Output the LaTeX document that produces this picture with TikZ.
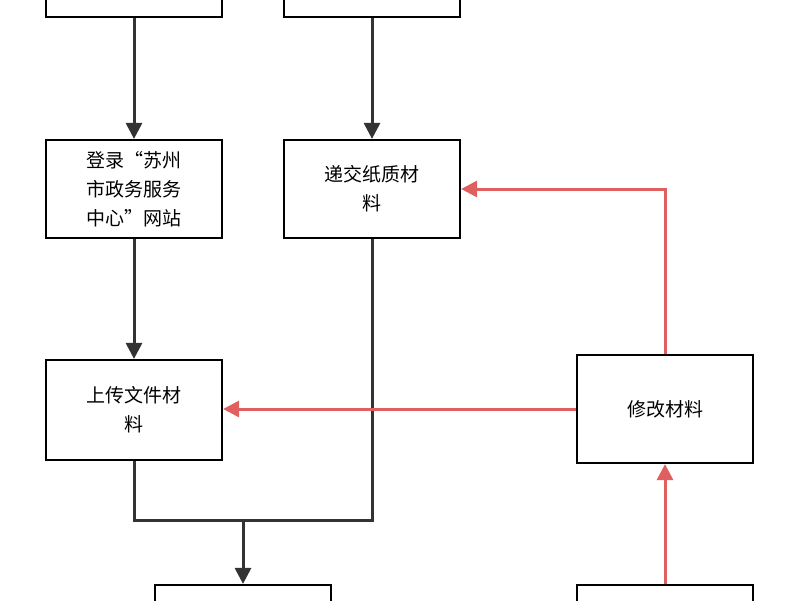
\documentclass[tikz,border=0pt]{standalone}
\usepackage{fontspec}
\newfontfamily\cjk{Noto Sans CJK SC}
\usetikzlibrary{arrows.meta}
\definecolor{dk}{HTML}{333333}
\definecolor{rd}{HTML}{E06060}
\begin{document}
\begin{tikzpicture}[x=1pt,y=-1pt,
  box/.style={draw=black,line width=2.2pt,fill=white,minimum width=176pt,text width=150pt,align=center,font=\cjk\fontsize{19}{29}\selectfont,inner sep=0pt},
  blk/.style={draw=dk,line width=3pt,-{Triangle[length=16pt,width=16pt]}},
  red/.style={draw=rd,line width=3pt,-{Triangle[length=16pt,width=16pt]}}]
\clip (0,0) rectangle (800,600);
\fill[white] (0,0) rectangle (800,600);
\node[box,minimum height=60pt] (a) at (134,-13) {};
\node[box,minimum height=60pt] (b) at (372,-13) {};
\node[box,minimum height=98pt] (c) at (134,189) {登录“苏州\\市政务服务\\中心”网站};
\node[box,minimum height=98pt] (d) at (372,189) {递交纸质材\\料};
\node[box,minimum height=100pt] (e) at (134,410) {上传文件材\\料};
\node[box,minimum height=108pt] (f) at (665,409) {修改材料};
\node[box,minimum height=60pt] (g) at (243,615) {};
\node[box,minimum height=60pt] (h) at (665,615) {};
\coordinate (j) at (243,520);
\draw[blk] (a) -- (c);
\draw[blk] (b) -- (d);
\draw[blk] (c) -- (e);
\draw[dk,line width=3pt] (e.south) |- (j) -| (d.south);
\draw[blk] (j) -- (g);
\draw[red] (h) -- (f);
\draw[red] (f.west) -- (e.east |- f.west);
\draw[red] (f.north) |- (d.east);
\end{tikzpicture}
\end{document}
